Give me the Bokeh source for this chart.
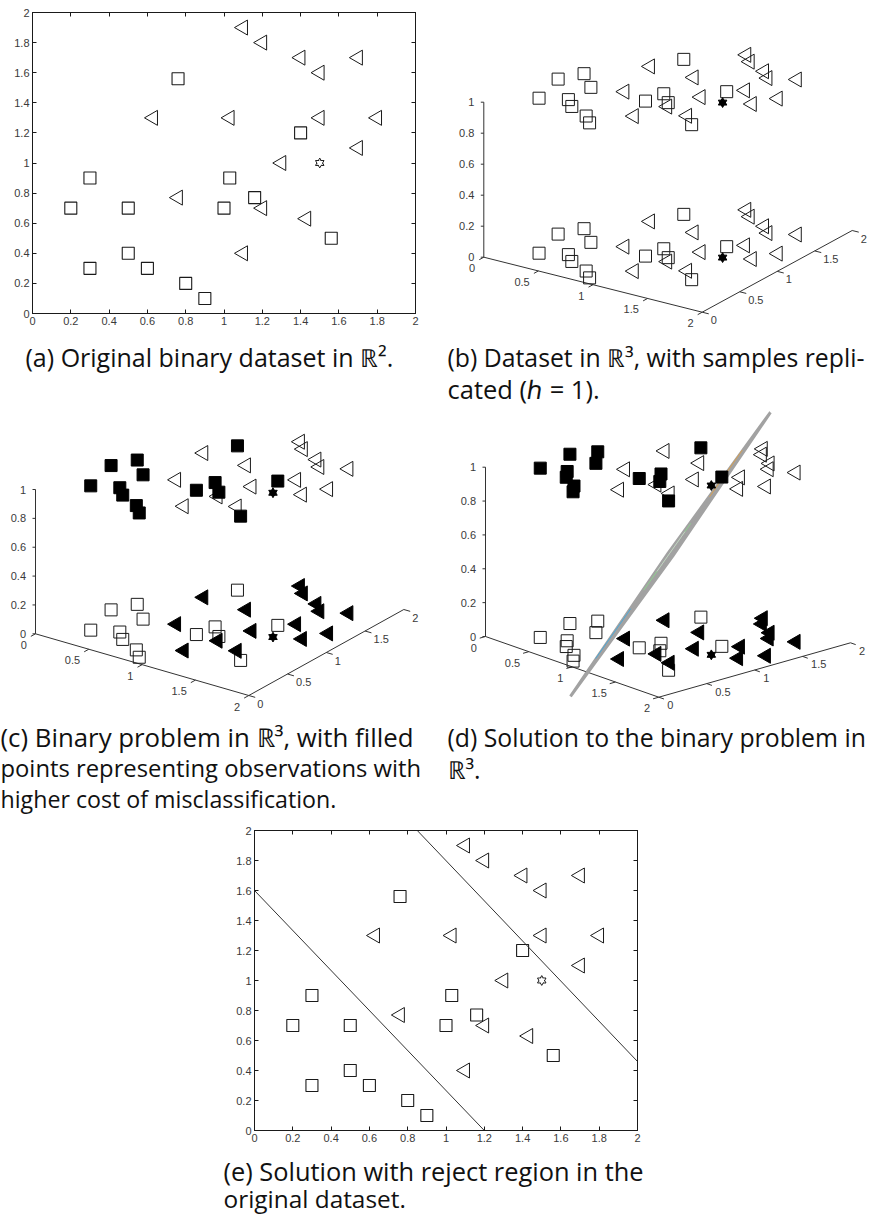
import math
from bokeh.embed import file_html
from bokeh.resources import INLINE
from bokeh.plotting import figure
from bokeh.layouts import column, row
from bokeh.models import Range1d, LinearAxis, FixedTicker
from bokeh.core.properties import value

SQ_X = [0.2, 0.3, 0.5, 0.3, 0.5, 0.6, 0.8, 0.9, 1.0, 1.03, 1.16, 1.4, 1.56, 0.76]
SQ_Y = [0.7, 0.9, 0.7, 0.3, 0.4, 0.3, 0.2, 0.1, 0.7, 0.9, 0.77, 1.2, 0.5, 1.56]
TRI_X = [1.1, 1.2, 1.4, 1.5, 1.7, 0.63, 1.03, 1.5, 1.8, 1.7, 1.3, 0.76, 1.2, 1.43, 1.1]
TRI_Y = [1.9, 1.8, 1.7, 1.6, 1.7, 1.3, 1.3, 1.3, 1.3, 1.1, 1.0, 0.77, 0.7, 0.63, 0.4]
STAR_X = [1.5]
STAR_Y = [1.0]
TICKS_2D = [0, 0.2, 0.4, 0.6, 0.8, 1, 1.2, 1.4, 1.6, 1.8, 2]
LABELS_2D = ["0", "0.2", "0.4", "0.6", "0.8", "1", "1.2", "1.4", "1.6", "1.8", "2"]
TICKS_XY = [0, 0.5, 1, 1.5, 2]
LABELS_XY = ["0", "0.5", "1", "1.5", "2"]
TICKS_Z = [0, 0.2, 0.4, 0.6, 0.8, 1]
LABELS_Z = ["0", "0.2", "0.4", "0.6", "0.8", "1"]
LOWER_X = [0, 1.2]
LOWER_Y = [1.6, 0]
UPPER_X = [0.85, 2]
UPPER_Y = [2, 0.46]
PLANE_X = [0.71, 0.288, 1.12, 1.55]
PLANE_Y = [0.245, 1.647, 1.96, 0.552]
PLANE_Z = [-0.266, 0.281, 1.21, 0.664]
SPECK_COLORS = ["#4aa8d8", "#8fd08f", "#c8c8c8", "#d8a050"]
SPECK_T = [(0.133, 0.309), (0.374, 0.609), (0.44, 0.58), (0.703, 0.867)]

CAP_A = [("(a) Original binary dataset in ℝ².", 25, 356, 25)]
CAP_B = [("(b) Dataset in ℝ³, with samples repli-", 447, 356, 24.8),
         ("cated (ℎ = 1).", 447, 388, 25.5)]
CAP_C = [("(c) Binary problem in ℝ³, with filled", 0, 736, 25.8),
         ("points representing observations with", 0, 767, 23.8),
         ("higher cost of misclassification.", 0, 798, 23.2)]
CAP_D = [("(d) Solution to the binary problem in", 447, 736, 24.8),
         ("ℝ³.", 447, 768, 24.8)]
CAP_E = [("(e) Solution with reject region in the", 223, 1170, 25.4),
         ("original dataset.", 223, 1198, 24.4)]

CAP_FONT = "Open Sans"
TICK_FONT = "Liberation Sans"
TICK_SIZE = "11px"
INK = "#1a1a1a"
TICK_INK = "#3a3a3a"
RIGHT_ANGLE = math.pi / 2


def markers_2d(p, xs, ys, tx, ty, sx, sy):
    p.scatter(tx, ty, marker="triangle", size=15, angle=RIGHT_ANGLE,
              fill_color=None, line_color=INK, line_width=1)
    p.scatter(xs, ys, marker="square", size=12, fill_color=None, line_color=INK, line_width=1.1)
    for m in ("triangle", "inverted_triangle"):
        p.scatter(sx, sy, marker=m, size=8.5, fill_color="white", line_color=INK, line_width=1)
    for m in ("triangle", "inverted_triangle"):
        p.scatter(sx, sy, marker=m, size=6, fill_color="white", line_color=None)


def panel_2d(w, h, left, right, top, bottom, y0_page):
    p = figure(width=w, height=h, output_backend="svg", toolbar_location=None,
               x_range=Range1d(0, 2), y_range=Range1d(0, 2),
               x_axis_location=None, y_axis_location=None,
               min_border_left=left, min_border_right=w - right,
               min_border_top=top - y0_page, min_border_bottom=y0_page + h - bottom)
    p.grid.visible = False
    p.outline_line_color = INK
    p.outline_line_width = 1
    overrides = dict(zip(TICKS_2D, LABELS_2D))
    for side in ("below", "left", "above", "right"):
        ax = LinearAxis(ticker=FixedTicker(ticks=TICKS_2D), major_label_overrides=overrides,
                        major_tick_in=4, major_tick_out=0, minor_tick_line_color=None,
                        axis_line_color=INK, major_tick_line_color=INK,
                        major_label_text_font=TICK_FONT, major_label_text_font_size=TICK_SIZE,
                        major_label_text_color=TICK_INK, major_label_standoff=3)
        if side in ("above", "right"):
            ax.major_label_text_font_size = "0px"
            ax.major_label_text_color = None
        p.add_layout(ax, side)
    markers_2d(p, SQ_X, SQ_Y, TRI_X, TRI_Y, STAR_X, STAR_Y)
    return p


def captions(p, caps):
    for text, x, y, size in caps:
        p.text([x], [y], text=[text], text_font=value(CAP_FONT), text_font_size=f"{size}px",
               text_color="#111111", text_baseline="middle", text_align="left")


def page_figure(x0, y0, w, h):
    p = figure(width=w, height=h, output_backend="svg", toolbar_location=None,
               x_range=Range1d(x0, x0 + w), y_range=Range1d(y0 + h, y0),
               x_axis_location=None, y_axis_location=None, min_border=0)
    p.grid.visible = False
    p.outline_line_color = None
    return p


def panel_3d(x0, y0, w, h, org, ex, ey, ez, caps, filled=False, plane=False):
    p = page_figure(x0, y0, w, h)

    def px(x, y):
        return org[0] + x * ex[0] + y * ey[0]

    def py(x, y, z):
        return org[1] + x * ex[1] + y * ey[1] - z * ez

    p.line([px(0, 0), px(2, 0), px(2, 2)], [py(0, 0, 0), py(2, 0, 0), py(2, 2, 0)], line_color="#333333", line_width=1)
    p.line([px(0, 0), px(0, 0)], [py(0, 0, 0), py(0, 0, 1)], line_color="#333333", line_width=1)
    for t, lab in zip(TICKS_XY, LABELS_XY):
        p.segment([px(t, 0)], [py(t, 0, 0)], [px(t, -0.06)], [py(t, -0.06, 0)], line_color="#333333")
        p.segment([px(2, t)], [py(2, t, 0)], [px(2.06, t)], [py(2.06, t, 0)], line_color="#333333")
        p.text([px(t, 0) - 8.7], [py(t, 0, 0) + 11], text=[lab], text_font=value(TICK_FONT),
               text_font_size=TICK_SIZE, text_color=TICK_INK, text_align="right", text_baseline="middle")
        p.text([px(2, t) + 8.5], [py(2, t, 0) + 8], text=[lab], text_font=value(TICK_FONT),
               text_font_size=TICK_SIZE, text_color=TICK_INK, text_align="left", text_baseline="middle")
    for t, lab in zip(TICKS_Z, LABELS_Z):
        p.segment([px(0, 0)], [py(0, 0, t)], [px(0, 0) - 3], [py(0, 0, t)], line_color="#333333")
        p.text([px(0, 0) - 9.5], [py(0, 0, t)], text=[lab], text_font=value(TICK_FONT),
               text_font_size=TICK_SIZE, text_color=TICK_INK, text_align="right", text_baseline="middle")

    if plane:
        vx = [px(a, b) for a, b in zip(PLANE_X, PLANE_Y)]
        vy = [py(a, b, c) for a, b, c in zip(PLANE_X, PLANE_Y, PLANE_Z)]
        p.patch(vx, vy, fill_color="#a2a2a2", line_color="#a2a2a2", line_width=3)
        for color, (t0, t1) in zip(SPECK_COLORS, SPECK_T):
            p.line([vx[0] + t0 * (vx[2] - vx[0]) - 1.5, vx[0] + t1 * (vx[2] - vx[0]) - 1.5],
                   [vy[0] + t0 * (vy[2] - vy[0]), vy[0] + t1 * (vy[2] - vy[0])],
                   line_color=color, line_width=1)

    for layer in (1, 0):
        tx = [px(a, b) for a, b in zip(TRI_X, TRI_Y)]
        ty = [py(a, b, layer) for a, b in zip(TRI_X, TRI_Y)]
        qx = [px(a, b) for a, b in zip(SQ_X, SQ_Y)]
        qy = [py(a, b, layer) for a, b in zip(SQ_X, SQ_Y)]
        if filled and layer == 1:
            p.scatter(tx, ty, marker="triangle", size=15, angle=RIGHT_ANGLE, fill_color=None,
                      line_color=INK, line_width=1)
            p.scatter(qx, qy, marker="square", size=12, fill_color="black", line_color="black", line_width=1)
        elif filled and layer == 0:
            p.scatter(qx, qy, marker="square", size=12, fill_color=None, line_color=INK, line_width=1)
            p.scatter(tx, ty, marker="triangle", size=15, angle=RIGHT_ANGLE, fill_color="black",
                      line_color="black", line_width=1)
        else:
            p.scatter(tx, ty, marker="triangle", size=15, angle=RIGHT_ANGLE, fill_color=None,
                      line_color=INK, line_width=1)
            p.scatter(qx, qy, marker="square", size=12, fill_color=None, line_color=INK, line_width=1)
        for m in ("triangle", "inverted_triangle"):
            p.scatter([px(a, b) for a, b in zip(STAR_X, STAR_Y)],
                      [py(a, b, layer) for a, b in zip(STAR_X, STAR_Y)],
                      marker=m, size=8.5, fill_color="black", line_color="black")
    captions(p, caps)
    return p


fa = panel_2d(435, 335, 32, 415, 12, 313, 0)
ca = page_figure(0, 335, 435, 70)
captions(ca, CAP_A)
fb = panel_3d(435, 0, 435, 405, (483.3, 256.7), (109.2, 27.5), (75, -40.85), 155, CAP_B)
fc = panel_3d(0, 405, 435, 410, (35, 633.3), (106.65, 30.85), (77.5, -43), 144.3, CAP_C, filled=True)
fd = panel_3d(435, 405, 435, 410, (485, 636), (86.65, 30.35), (95.85, -27.2), 169.3, CAP_D, filled=True, plane=True)
fe = panel_2d(870, 330, 254, 637, 830, 1130, 815)
fe.line(LOWER_X, LOWER_Y, line_color="#333333", line_width=1)
fe.line(UPPER_X, UPPER_Y, line_color="#333333", line_width=1)
ce = page_figure(0, 1145, 870, 71)
captions(ce, CAP_E)

root = column(
    row(column(row(fa), row(ca), spacing=0), row(fb), spacing=0),
    row(row(fc), row(fd), spacing=0),
    column(row(fe), row(ce), spacing=0),
    spacing=0)
open("out.html", "w").write(file_html(root, INLINE))
